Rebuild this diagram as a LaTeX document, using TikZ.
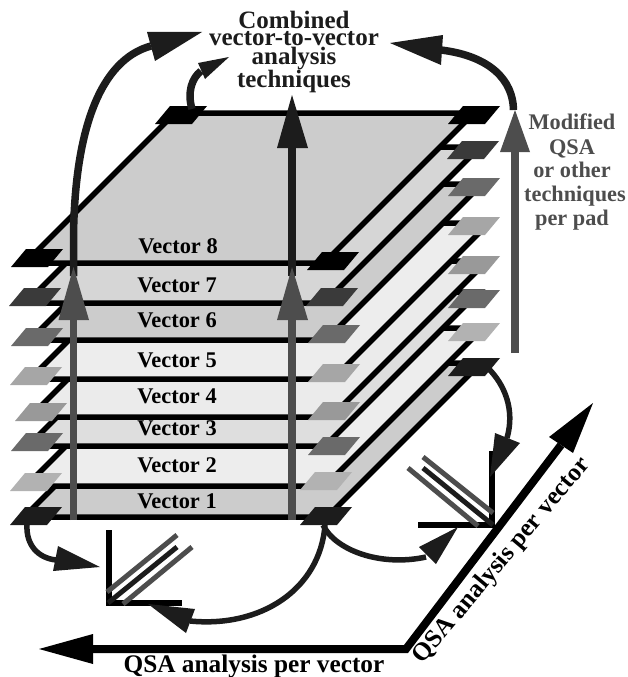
\documentclass[tikz,border=0pt]{standalone}
\usepackage{fontspec}
\setmainfont{Liberation Serif}
\definecolor{darkc}{HTML}{1C1C1C}
\definecolor{greyc}{HTML}{4D4D4D}
\definecolor{pada}{HTML}{000000}
\definecolor{padb}{HTML}{3A3A3A}
\definecolor{padc}{HTML}{6A6A6A}
\definecolor{padd}{HTML}{A6A6A6}
\definecolor{pade}{HTML}{999999}
\definecolor{padg}{HTML}{B2B2B2}
\tikzset{
  planeface/.style={draw=black,line width=5.5pt,line join=miter},
  padface/.style={draw=none},
  vlabel/.style={font=\bfseries\fontsize{22.4}{22}\selectfont,anchor=base,inner sep=0pt,text=black},
  toplabel/.style={font=\bfseries\fontsize{25}{25}\selectfont,anchor=base,inner sep=0pt,text=darkc},
  sidelabel/.style={font=\bfseries\fontsize{22.3}{22}\selectfont,anchor=base,inner sep=0pt,text=greyc},
  axislabel/.style={font=\bfseries\fontsize{25.3}{26}\selectfont,inner sep=0pt,text=black},
  darkline/.style={draw=darkc,line width=7.5pt},
  greyline/.style={draw=greyc,line width=7.5pt},
  thinarc/.style={draw=darkc,line width=5.5pt},
  plotaxis/.style={draw=black,line width=6pt},
  plotdark/.style={draw=darkc,line width=5pt},
  plotgrey/.style={draw=greyc,line width=5pt},
  bigaxis/.style={draw=black,line width=8pt,line join=miter},
}
\newcommand{\layerplane}[5]{% fx fy rx by fill
  \pgfmathsetmacro{\dd}{#2-#4}
  \path[planeface,fill=#5] (#1,#2) -- (#3,#2) -- ({#3+\dd},#4) -- ({#1+\dd},#4) -- cycle;}
\newcommand{\padat}[4]{% name x y colour
  \coordinate (#1) at (#2,#3);
  \path[padface,fill=#4] ($(#1)+(-26,9)$) -- ($(#1)+(11,9)$) -- ($(#1)+(26,-9)$) -- ($(#1)+(-11,-9)$) -- cycle;}
\usetikzlibrary{calc}
\begin{document}
\begin{tikzpicture}[x=1pt,y=-1pt]
\useasboundingbox (0,0) rectangle (628,677);
% planes, bottom to top
\layerplane{24}{517}{327}{363}{black!20}
\layerplane{26}{486}{325}{328}{black!7}
\layerplane{28}{446}{325}{292}{black!13}
\layerplane{30}{417}{331}{261}{black!8}
\layerplane{30}{379}{333}{223}{black!7}
\layerplane{30}{340}{326}{184}{black!20}
\layerplane{26}{303}{324}{147}{black!16}
\layerplane{25}{263}{324}{113}{black!20}
% pads
\padat{fl1}{36}{516}{darkc}\padat{fl2}{36}{482}{padg}\padat{fl3}{37}{442}{padc}\padat{fl4}{41}{412}{pade}
\padat{fl5}{36}{376}{padd}\padat{fl6}{37}{337}{padc}\padat{fl7}{35}{297}{padb}\padat{fl8}{37}{258}{pada}
\padat{fr1}{326}{516}{darkc}\padat{fr2}{326}{481}{padg}\padat{fr3}{334}{446}{padc}\padat{fr4}{334}{411}{pade}
\padat{fr5}{334}{373}{padd}\padat{fr6}{334}{334}{padc}\padat{fr7}{332}{297}{padb}\padat{fr8}{333}{261}{pada}
\padat{br1}{474}{367}{darkc}\padat{br2}{474}{332}{padg}\padat{br3}{474}{299}{padc}\padat{br4}{474}{265}{pade}
\padat{br5}{474}{226}{padd}\padat{br6}{474}{187}{padc}\padat{br7}{473}{150}{padb}\padat{br8}{474}{115}{pada}
\padat{bl8}{181}{115}{pada}
% vector labels
\node[vlabel] (v8) at (178,253) {Vector 8};
\node[vlabel] (v7) at (177,292) {Vector 7};
\node[vlabel] (v6) at (177,327) {Vector 6};
\node[vlabel] (v5) at (177,367) {Vector 5};
\node[vlabel] (v4) at (177,403) {Vector 4};
\node[vlabel] (v3) at (177,435) {Vector 3};
\node[vlabel] (v2) at (177,472) {Vector 2};
\node[vlabel] (v1) at (177,508) {Vector 1};
% dark curved arrows to the top text
\path[darkline] (73.5,276) -- (73.5,235) .. controls (75,130) and (100,60) .. (151,46);
\path[fill=darkc] (202,32) -- (147,32) -- (155,61) -- cycle;
\path[darkline] (513.5,110) .. controls (513,80) and (490,56) .. (441,50);
\path[fill=darkc] (390,43) -- (443,35) -- (441,65) -- cycle;
\path[darkline] (192,109) .. controls (187,92) and (192,78) .. (201,71);
\path[fill=darkc] (229,57) -- (198,63) -- (205,79) -- cycle;
\path[darkline] (292,276) -- (292,146);
\path[fill=darkc] (292,95) -- (277,148) -- (308,148) -- cycle;
% grey arrows
\path[greyline] (73.5,520) -- (73.5,318);
\path[fill=greyc] (73.5,267) -- (58.5,320) -- (89,320) -- cycle;
\path[greyline] (292,520) -- (292,318);
\path[fill=greyc] (292,267) -- (277,320) -- (308,320) -- cycle;
\path[greyline] (515,353) -- (515,150);
\path[fill=greyc] (515,110) -- (500,152) -- (530,152) -- cycle;
% left plot
\path[plotaxis] (109,530) -- (109,603) -- (182,603);
\path[plotgrey] (107,592) -- (177,535);
\path[plotgrey] (123,604) -- (192,547);
\path[plotdark] (108,603) -- (177,547);
% right plot
\path[plotaxis] (492,451) -- (492,525) -- (418,525);
\path[plotgrey] (423,457) -- (493,513);
\path[plotgrey] (408,468) -- (478,526);
\path[plotdark] (423,468) -- (493,525);
% small curved arrows
\path[thinarc] (fl1)++(-9,9) .. controls (26,545) and (38,558) .. (56,560);
\path[fill=darkc] (100,567) -- (58,546) -- (53,571) -- cycle;
\path[thinarc] (325,525) .. controls (320,590) and (260,628) .. (190,621);
\path[fill=darkc] (148,604) -- (195,609) -- (186,633) -- cycle;
\path[thinarc] (323,525) .. controls (335,550) and (380,567) .. (426,557);
\path[fill=darkc] (458,527) -- (419,547) -- (436,564) -- cycle;
\path[thinarc] (488,368) .. controls (505,385) and (515,410) .. (507,438);
\path[fill=darkc] (490,477) -- (495,433) -- (520,443) -- cycle;
% big axes
\coordinate (corner) at (406,649);
\path[bigaxis] (90,649) -- (corner) -- (561,445);
\path[fill=black] (39,649) -- (93,634) -- (93,664) -- cycle;
\path[fill=black] (593,403) -- (549,437) -- (573,453) -- cycle;
% texts
\node[toplabel] (c1) at (294,29) {Combined};
\node[toplabel] (c2) at (294,46) {vector-to-vector};
\node[toplabel] (c3) at (294,65) {analysis};
\node[toplabel] (c4) at (294,88) {techniques};
\node[sidelabel] (s1) at (572,129) {Modified};
\node[sidelabel] (s2) at (572,154) {QSA};
\node[sidelabel] (s3) at (572,177) {or other};
\node[sidelabel] (s4) at (575,201) {techniques};
\node[sidelabel] (s5) at (572,225) {per pad};
\node[axislabel,anchor=base] (q1) at (254,672) {QSA analysis per vector};
\node[axislabel,rotate=50] (q2) at (502,561) {QSA analysis per vector};
\end{tikzpicture}
\end{document}
